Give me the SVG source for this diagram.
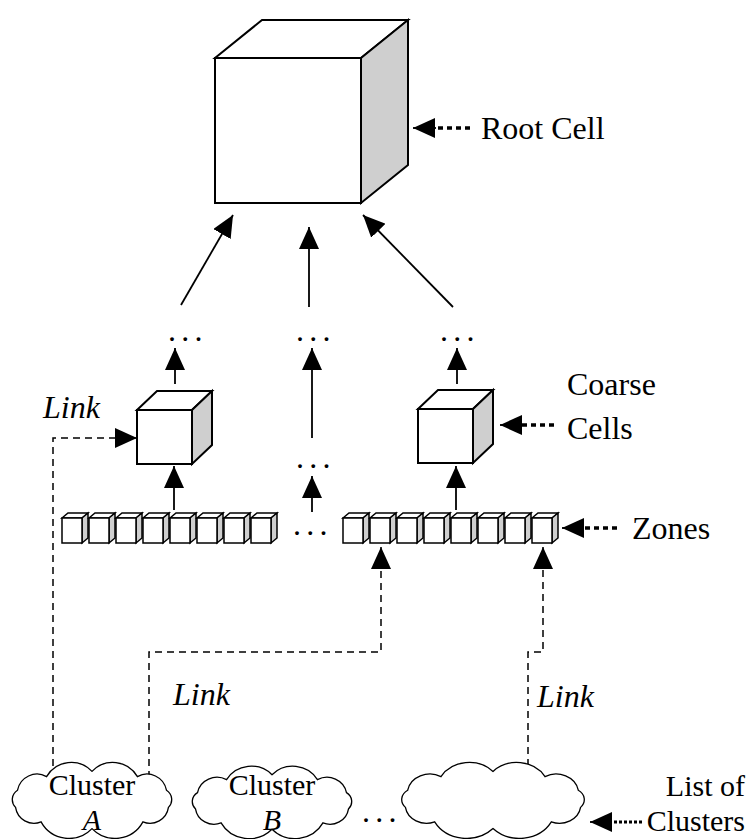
<svg xmlns="http://www.w3.org/2000/svg" xmlns:xlink="http://www.w3.org/1999/xlink" width="751" height="839" viewBox="0 0 751 839">
<style>
text{font-family:"Liberation Serif","Times New Roman",serif;font-size:32px;fill:#000}
.it{font-style:italic}
.sm{font-size:30px}
.ln{stroke:#000;stroke-width:1.8;fill:none}
.dash{stroke:#000;stroke-width:1.5;fill:none;stroke-dasharray:7 5}
.dotl{stroke:#000;stroke-width:3.5;fill:none;stroke-dasharray:5 4}
.face{fill:#fff;stroke:#000;stroke-width:2;stroke-linejoin:miter}
.side{fill:#cfcfcf;stroke:#000;stroke-width:2}
.sface{fill:#fff;stroke:#000;stroke-width:1.5}
.sside{fill:#cfcfcf;stroke:#000;stroke-width:1.5}
.cloud{fill:#fff;stroke:#000;stroke-width:1.3}
</style>
<defs>
<marker id="ah" viewBox="0 0 22 20" markerWidth="22" markerHeight="20" refX="22" refY="10" orient="auto" markerUnits="userSpaceOnUse"><path d="M0,0 L22,10 L0,20 Z" fill="#000"/></marker>
<g id="zc">
<path class="sface" d="M0,5 L6,0 L26,0 L20,5 Z"/>
<path class="sside" d="M20,5 L26,0 L26,25 L20,30 Z"/>
<rect class="sface" x="0" y="5" width="20" height="25"/>
</g>
<path id="cl" class="cloud" vector-effect="non-scaling-stroke" d="M-67.7,-8.9 A18 18 0 0 1 -41.3,-21.3 A26 26 0 0 1 0,-26 A26 26 0 0 1 41.3,-21.3 A18 18 0 0 1 67.7,-8.9 A10 10 0 0 1 69.5,6.7 A17 17 0 0 1 46.3,19.9 A29 29 0 0 1 0,26 A29 29 0 0 1 -46.3,19.9 A17 17 0 0 1 -69.5,6.7 A10 10 0 0 1 -67.7,-8.9 Z"/>
</defs>

<g id="connectors">
<line class="ln" x1="181" y1="305" x2="233" y2="215" marker-end="url(#ah)"/>
<line class="ln" x1="309" y1="307" x2="309" y2="227" marker-end="url(#ah)"/>
<line class="ln" x1="453" y1="307" x2="363" y2="215" marker-end="url(#ah)"/>
<line class="ln" x1="175" y1="384" x2="175" y2="348" marker-end="url(#ah)"/>
<line class="ln" x1="312" y1="438" x2="312" y2="348" marker-end="url(#ah)"/>
<line class="ln" x1="457" y1="384" x2="457" y2="348" marker-end="url(#ah)"/>
<line class="ln" x1="174" y1="510" x2="174" y2="466" marker-end="url(#ah)"/>
<line class="ln" x1="312" y1="512" x2="312" y2="476" marker-end="url(#ah)"/>
<line class="ln" x1="456" y1="510" x2="456" y2="466" marker-end="url(#ah)"/>
<path class="dash" d="M53,790 V438 H137" marker-end="url(#ah)"/>
<path class="dash" d="M149,790 V652 H381 V547" marker-end="url(#ah)"/>
<path class="dash" d="M528,790 V652 H543 V547" marker-end="url(#ah)"/>
<path class="dotl" d="M470,128 H436"/>
<line class="ln" x1="436" y1="128" x2="413" y2="128" marker-end="url(#ah)"/>
<path class="dotl" d="M554,425 H522"/>
<line class="ln" x1="522" y1="425" x2="500" y2="425" marker-end="url(#ah)"/>
<path class="dotl" d="M617,528 H582"/>
<line class="ln" x1="582" y1="528" x2="562" y2="528" marker-end="url(#ah)"/>
<path class="dotl" d="M642,822 H610" style="stroke-dasharray:3 2;stroke-width:3"/>
<line class="ln" x1="610" y1="822" x2="590" y2="822" marker-end="url(#ah)"/>
</g>

<g id="root-cell">
<path class="face" d="M215,58 L262,20 L408,20 L361,58 Z"/>
<path class="side" d="M361,58 L408,20 L408,165 L361,203 Z"/>
<rect class="face" x="215" y="58" width="146" height="145"/>
</g>
<text id="root-label" x="481" y="139">Root Cell</text>

<g id="coarse-left">
<path class="face" d="M137,410 L157,391 L212,391 L192,410 Z"/>
<path class="side" d="M192,410 L212,391 L212,445 L192,464 Z"/>
<rect class="face" x="137" y="410" width="55" height="54"/>
</g>
<g id="coarse-right">
<path class="face" d="M418,409 L438,390 L493,390 L473,409 Z"/>
<path class="side" d="M473,409 L493,390 L493,444 L473,463 Z"/>
<rect class="face" x="418" y="409" width="55" height="54"/>
</g>
<text id="coarse-label-1" x="567" y="395">Coarse</text>
<text id="coarse-label-2" x="567" y="439">Cells</text>

<g id="zones-left">
<use xlink:href="#zc" x="62" y="513"/>
<use xlink:href="#zc" x="89" y="513"/>
<use xlink:href="#zc" x="116" y="513"/>
<use xlink:href="#zc" x="143" y="513"/>
<use xlink:href="#zc" x="170" y="513"/>
<use xlink:href="#zc" x="197" y="513"/>
<use xlink:href="#zc" x="224" y="513"/>
<use xlink:href="#zc" x="251" y="513"/>
</g>
<g id="zones-right">
<use xlink:href="#zc" x="343" y="513"/>
<use xlink:href="#zc" x="370" y="513"/>
<use xlink:href="#zc" x="397" y="513"/>
<use xlink:href="#zc" x="424" y="513"/>
<use xlink:href="#zc" x="451" y="513"/>
<use xlink:href="#zc" x="478" y="513"/>
<use xlink:href="#zc" x="505" y="513"/>
<use xlink:href="#zc" x="532" y="513"/>
</g>
<text id="zones-label" x="632" y="539">Zones</text>

<g id="dots">
<text x="168" y="341" letter-spacing="5.3">...</text>
<text x="296" y="341" letter-spacing="5.3">...</text>
<text x="440" y="341" letter-spacing="5.3">...</text>
<text x="296" y="468" letter-spacing="5.3">...</text>
<text x="293" y="535" letter-spacing="5.3">...</text>
<text x="362" y="822" letter-spacing="5.3">...</text>
</g>

<text class="it" x="43" y="418">Link</text>
<text class="it" x="173" y="705">Link</text>
<text class="it" x="537" y="707">Link</text>

<g id="cluster-a">
<use xlink:href="#cl" transform="translate(92,800) scale(1.1,1.1)"/>
<text class="sm" x="92" y="795" text-anchor="middle">Cluster</text>
<text class="sm it" x="92" y="830" text-anchor="middle">A</text>
</g>
<g id="cluster-b">
<use xlink:href="#cl" transform="translate(272,802) scale(1.1,1.05)"/>
<text class="sm" x="272" y="795" text-anchor="middle">Cluster</text>
<text class="sm it" x="272" y="830" text-anchor="middle">B</text>
</g>
<g id="cluster-c">
<use xlink:href="#cl" transform="translate(493,800) scale(1.26,1.1)"/>
</g>
<text id="list-label-1" class="sm" x="745" y="796" text-anchor="end">List of</text>
<text id="list-label-2" class="sm" x="745" y="831" text-anchor="end">Clusters</text>
</svg>
